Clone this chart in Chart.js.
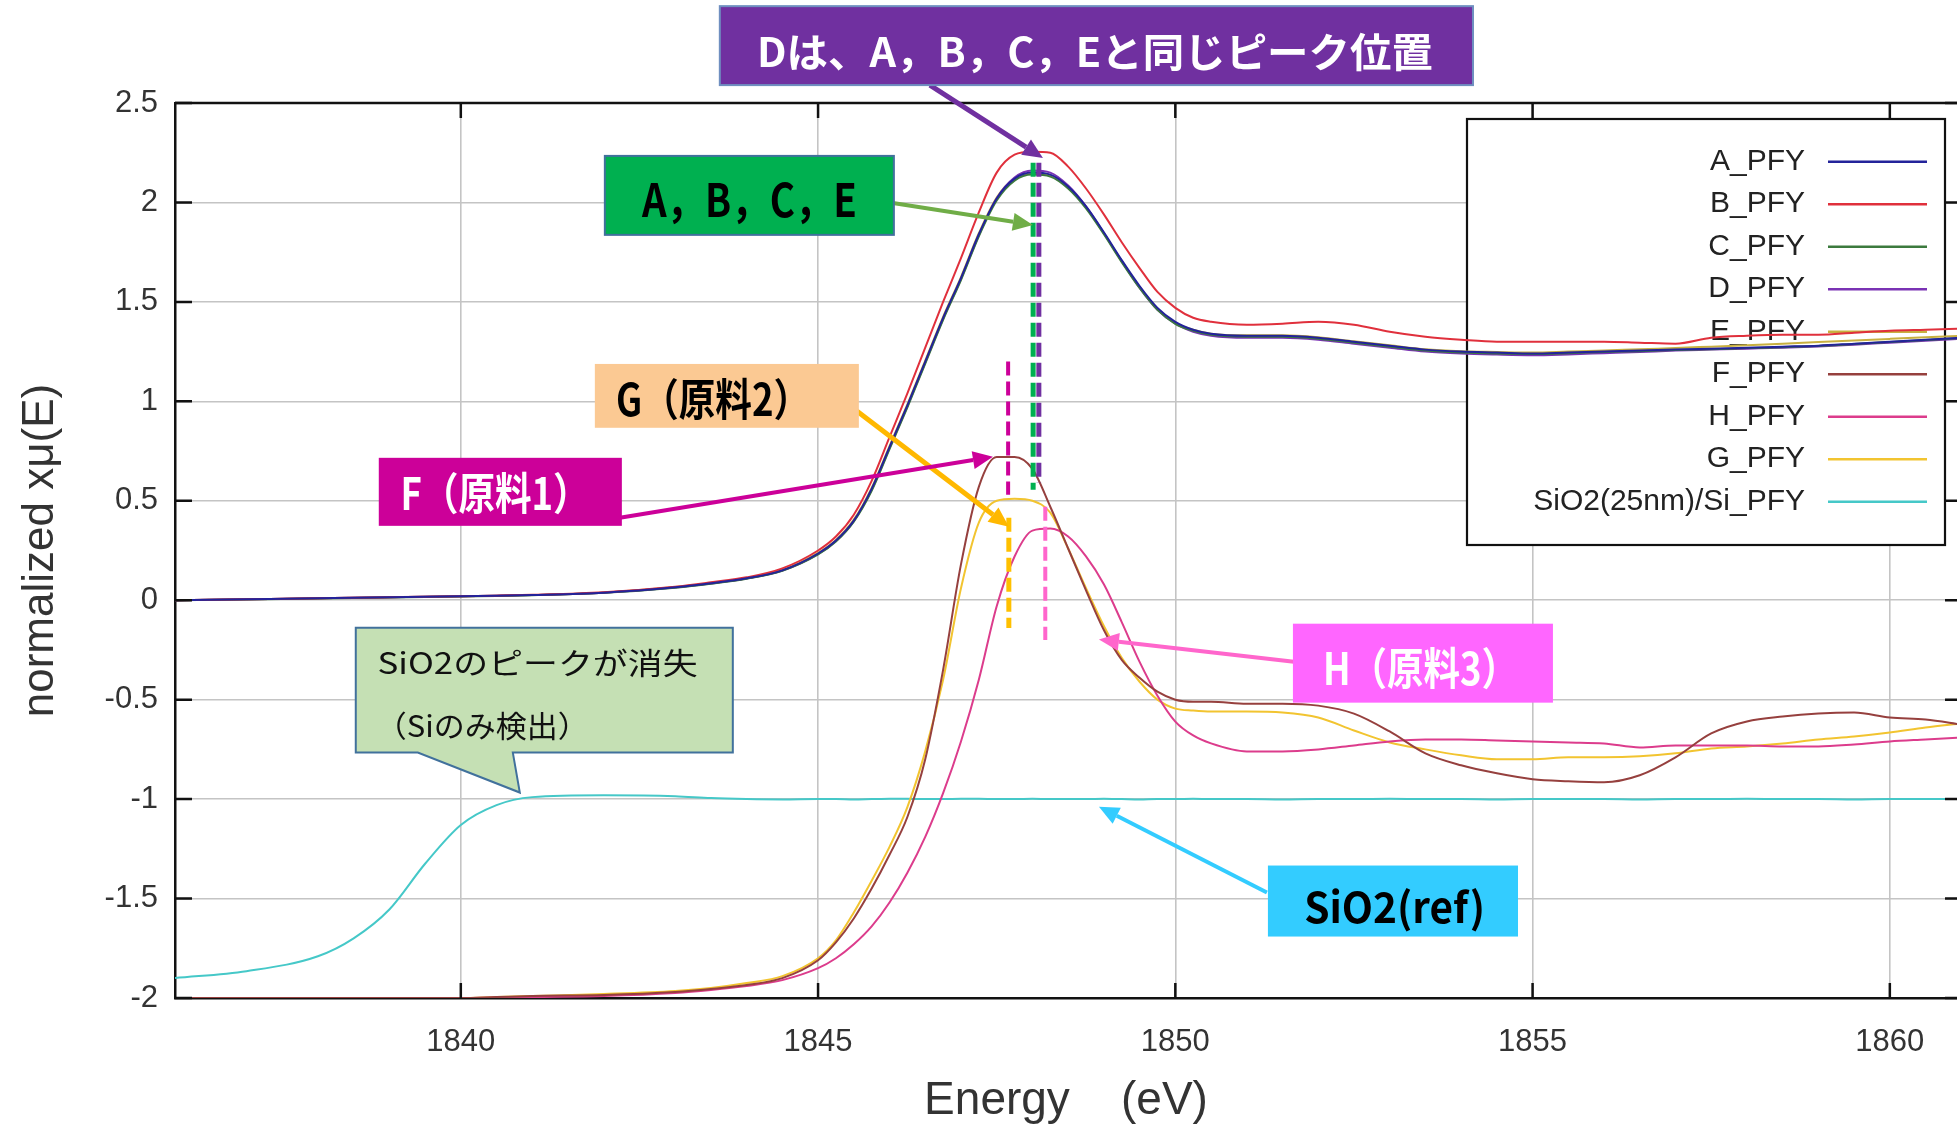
<!DOCTYPE html>
<html>
<head>
<meta charset="utf-8">
<script src="https://cdn.jsdelivr.net/npm/chart.js@4.4.1/dist/chart.umd.min.js"></script>
<style>
  html, body { margin: 0; padding: 0; background: #fff; overflow: hidden; }
  canvas { display: block; }
</style>
</head>
<body>
<canvas id="c" width="1957" height="1126"></canvas>
<script>
// ---- data: Si K-edge PFY spectra (normalized, offset) ----
const energy = [1836, 1837, 1838, 1838.5, 1839, 1839.5, 1840, 1840.5, 1841, 1842,
  1843, 1843.5, 1844, 1844.5, 1845, 1845.25, 1845.5, 1845.75, 1846, 1846.25,
  1846.5, 1846.75, 1847, 1847.25, 1847.5, 1847.75, 1848, 1848.25, 1848.5, 1848.75,
  1849, 1849.25, 1849.5, 1849.75, 1850, 1850.25, 1850.5, 1851, 1851.5, 1852,
  1852.5, 1853, 1853.5, 1854, 1854.5, 1855, 1855.5, 1856, 1856.5, 1857,
  1857.5, 1858, 1858.5, 1859, 1859.5, 1860, 1860.5, 1861];

const A_PFY = [0.000, 0.005, 0.010, 0.012, 0.015, 0.017, 0.020, 0.022, 0.026, 0.038,
  0.065, 0.085, 0.110, 0.150, 0.235, 0.300, 0.400, 0.560, 0.770, 0.980,
  1.200, 1.420, 1.620, 1.840, 2.020, 2.120, 2.150, 2.140, 2.080, 1.980,
  1.850, 1.710, 1.580, 1.470, 1.400, 1.360, 1.340, 1.330, 1.330, 1.320,
  1.300, 1.280, 1.260, 1.250, 1.245, 1.240, 1.245, 1.250, 1.255, 1.260,
  1.265, 1.270, 1.275, 1.280, 1.290, 1.300, 1.310, 1.320];

const B_PFY = [0.000, 0.005, 0.010, 0.012, 0.015, 0.018, 0.020, 0.023, 0.027, 0.040,
  0.068, 0.090, 0.115, 0.160, 0.250, 0.320, 0.430, 0.600, 0.820, 1.040,
  1.270, 1.500, 1.720, 1.950, 2.150, 2.240, 2.255, 2.250, 2.180, 2.070,
  1.940, 1.800, 1.670, 1.550, 1.470, 1.420, 1.400, 1.385, 1.390, 1.400,
  1.385, 1.350, 1.325, 1.310, 1.300, 1.300, 1.300, 1.300, 1.295, 1.290,
  1.320, 1.330, 1.335, 1.335, 1.345, 1.355, 1.360, 1.365];

const C_PFY = [0.000, 0.004, 0.009, 0.011, 0.014, 0.016, 0.019, 0.021, 0.025, 0.037,
  0.063, 0.083, 0.108, 0.148, 0.230, 0.295, 0.395, 0.550, 0.760, 0.970,
  1.190, 1.410, 1.610, 1.830, 2.010, 2.110, 2.140, 2.130, 2.070, 1.970,
  1.840, 1.700, 1.570, 1.460, 1.390, 1.355, 1.335, 1.325, 1.325, 1.315,
  1.295, 1.275, 1.255, 1.245, 1.240, 1.238, 1.242, 1.248, 1.252, 1.258,
  1.262, 1.268, 1.272, 1.278, 1.288, 1.298, 1.308, 1.318];

const D_PFY = [0.000, 0.005, 0.010, 0.012, 0.015, 0.017, 0.020, 0.022, 0.026, 0.038,
  0.064, 0.084, 0.109, 0.149, 0.232, 0.298, 0.398, 0.555, 0.765, 0.975,
  1.195, 1.415, 1.615, 1.835, 2.020, 2.125, 2.160, 2.150, 2.085, 1.980,
  1.845, 1.705, 1.570, 1.460, 1.390, 1.350, 1.330, 1.320, 1.320, 1.310,
  1.290, 1.270, 1.250, 1.240, 1.235, 1.232, 1.236, 1.242, 1.248, 1.255,
  1.260, 1.265, 1.270, 1.276, 1.285, 1.295, 1.305, 1.315];

const E_PFY = [0.000, 0.005, 0.010, 0.012, 0.015, 0.017, 0.020, 0.022, 0.026, 0.038,
  0.066, 0.086, 0.111, 0.152, 0.238, 0.303, 0.405, 0.565, 0.775, 0.985,
  1.205, 1.425, 1.625, 1.845, 2.025, 2.120, 2.145, 2.135, 2.075, 1.975,
  1.845, 1.705, 1.575, 1.465, 1.395, 1.360, 1.340, 1.332, 1.332, 1.322,
  1.302, 1.282, 1.262, 1.252, 1.248, 1.245, 1.250, 1.255, 1.262, 1.268,
  1.275, 1.282, 1.290, 1.298, 1.306, 1.314, 1.322, 1.330];

const F_PFY = [-2.000, -2.000, -2.000, -2.000, -2.000, -2.000, -2.000, -1.995, -1.990, -1.985,
  -1.970, -1.955, -1.935, -1.900, -1.810, -1.720, -1.600, -1.450, -1.280, -1.090,
  -0.800, -0.350, 0.180, 0.570, 0.720, 0.720, 0.660, 0.470, 0.260, 0.050,
  -0.150, -0.300, -0.390, -0.460, -0.500, -0.510, -0.510, -0.520, -0.520, -0.530,
  -0.570, -0.660, -0.770, -0.830, -0.870, -0.900, -0.910, -0.915, -0.880, -0.790,
  -0.670, -0.610, -0.585, -0.570, -0.565, -0.590, -0.600, -0.625];

const H_PFY = [-2.000, -2.000, -2.000, -2.000, -2.000, -2.000, -2.000, -1.998, -1.995, -1.990,
  -1.975, -1.960, -1.940, -1.910, -1.850, -1.800, -1.730, -1.640, -1.520, -1.370,
  -1.190, -0.970, -0.710, -0.400, -0.030, 0.220, 0.350, 0.360, 0.320, 0.220,
  0.080, -0.110, -0.310, -0.480, -0.610, -0.680, -0.720, -0.760, -0.760, -0.750,
  -0.730, -0.710, -0.700, -0.700, -0.705, -0.710, -0.715, -0.720, -0.740, -0.730,
  -0.730, -0.730, -0.735, -0.735, -0.725, -0.710, -0.700, -0.690];

const G_PFY = [-2.000, -2.000, -2.000, -2.000, -2.000, -2.000, -2.000, -1.995, -1.990, -1.980,
  -1.965, -1.950, -1.925, -1.890, -1.800, -1.710, -1.570, -1.410, -1.240, -1.040,
  -0.760, -0.400, 0.060, 0.390, 0.500, 0.510, 0.500, 0.440, 0.260, 0.060,
  -0.130, -0.290, -0.410, -0.500, -0.545, -0.555, -0.560, -0.560, -0.565, -0.590,
  -0.655, -0.715, -0.750, -0.780, -0.800, -0.800, -0.790, -0.790, -0.785, -0.770,
  -0.745, -0.735, -0.720, -0.700, -0.685, -0.665, -0.640, -0.620];

const SiO2_PFY = [-1.900, -1.865, -1.790, -1.700, -1.555, -1.325, -1.130, -1.030, -0.990, -0.980,
  -0.985, -0.995, -1.000, -1.002, -1.000, -1.000, -1.002, -1.000, -0.998, -0.998,
  -1.000, -1.000, -0.998, -0.998, -1.000, -1.000, -0.998, -1.000, -1.000, -1.000,
  -0.998, -1.000, -1.002, -1.000, -1.000, -0.998, -1.000, -1.000, -1.002, -1.000,
  -1.000, -0.998, -1.000, -1.000, -1.002, -1.000, -1.000, -1.000, -1.002, -1.000,
  -1.000, -0.998, -1.000, -1.000, -1.002, -1.000, -1.000, -1.000];

const seriesNames = ['A_PFY', 'B_PFY', 'C_PFY', 'D_PFY', 'E_PFY', 'F_PFY', 'H_PFY', 'G_PFY', 'SiO2(25nm)/Si_PFY'];
const seriesValues = [A_PFY, B_PFY, C_PFY, D_PFY, E_PFY, F_PFY, H_PFY, G_PFY, SiO2_PFY];
const seriesColors = ['#23239a', '#e0303c', '#3c7a3e', '#7a32b4', '#c8b040', '#96403e', '#dc3c8c', '#f2c430', '#45c8c8'];

const xTicks = [1840, 1845, 1850, 1855, 1860];
const yTicks = [-2, -1.5, -1, -0.5, 0, 0.5, 1, 1.5, 2, 2.5];

// ---- callout annotations (data coordinates) ----
const peakMarkers = [
  { x: 1847.66, y1: 1.20, y2: 0.53, color: '#cc0099', width: 4 },
  { x: 1848.01, y1: 2.20, y2: 0.555, color: '#00b050', width: 5 },
  { x: 1848.09, y1: 2.20, y2: 0.59, color: '#7030a0', width: 5 },
  { x: 1847.67, y1: 0.415, y2: -0.14, color: '#ffc000', width: 5 },
  { x: 1848.18, y1: 0.47, y2: -0.20, color: '#ff66cc', width: 4 }
];

const arrows = [
  { from: [1846.565, 2.590], to: [1848.147, 2.224], color: '#7030a0', width: 5 },
  { from: [1846.047, 1.997], to: [1848.007, 1.887], color: '#70ad47', width: 4 },
  { from: [1845.487, 0.967], to: [1847.671, 0.369], color: '#ffb800', width: 5 },
  { from: [1842.226, 0.415], to: [1847.447, 0.721], color: '#cc0099', width: 4 },
  { from: [1851.660, -0.309], to: [1848.931, -0.198], color: '#ff66cc', width: 4 },
  { from: [1851.282, -1.470], to: [1848.931, -1.038], color: '#33ccff', width: 4 }
];

const labelBoxes = [
  { x1: 1843.625, x2: 1854.166, y1: 2.987, y2: 2.590, fill: '#7030a0', stroke: '#6f8fc0',
    text: 'Dは、A，B，C，Eと同じピーク位置', tx: 1848.875, ty: 2.756, tw: 676, size: 40, color: '#ffffff' },
  { x1: 1842.016, x2: 1846.061, y1: 2.234, y2: 1.837, fill: '#00b050', stroke: '#41719c',
    text: 'A，B，C，E', tx: 1844.04, ty: 2.013, tw: 215, size: 46, color: '#000000' },
  { x1: 1841.876, x2: 1845.571, y1: 1.188, y2: 0.867, fill: '#fbc993', stroke: null,
    text: 'G（原料2）', tx: 1843.53, ty: 1.008, tw: 194, size: 44, color: '#000000' },
  { x1: 1838.852, x2: 1842.254, y1: 0.716, y2: 0.374, fill: '#cc0099', stroke: null,
    text: 'F（原料1）', tx: 1840.48, ty: 0.540, tw: 189, size: 44, color: '#ffffff' },
  { x1: 1851.646, x2: 1855.285, y1: -0.118, y2: -0.515, fill: '#ff66ff', stroke: null,
    text: 'H（原料3）', tx: 1853.43, ty: -0.344, tw: 195, size: 44, color: '#ffffff' },
  { x1: 1851.296, x2: 1854.796, y1: -1.334, y2: -1.691, fill: '#33ccff', stroke: null,
    text: 'SiO2(ref)', tx: 1853.07, ty: -1.545, tw: 181, size: 42, color: '#000000' }
];

const speechBubble = {
  x1: 1838.530, x2: 1843.807, y1: -0.138, y2: -0.766,
  tailLeft: 1839.398, tailRight: 1840.728, tip: [1840.826, -0.967],
  fill: '#c5e0b4', stroke: '#41719c',
  lines: [
    { text: 'SiO2のピークが消失', x: 1838.835, y: -0.314, w: 320 },
    { text: '（Siのみ検出）', x: 1838.81, y: -0.631, w: 213 }
  ]
};

const LATIN = '"Liberation Sans", Arial, sans-serif';
const CJK = '"Noto Sans CJK JP", "Noto Sans", sans-serif';

function drawFitted(ctx, text, x, y, width, font, color, align) {
  ctx.save();
  ctx.font = font;
  const w = ctx.measureText(text).width;
  ctx.translate(x, y);
  ctx.scale(width / w, 1);
  ctx.fillStyle = color;
  ctx.textBaseline = 'middle';
  ctx.textAlign = align || 'center';
  ctx.fillText(text, 0, 0);
  ctx.restore();
}

function drawArrow(ctx, x1, y1, x2, y2, color, width) {
  const ang = Math.atan2(y2 - y1, x2 - x1);
  const headLen = 20, headHalf = 9;
  const bx = x2 - headLen * Math.cos(ang), by = y2 - headLen * Math.sin(ang);
  ctx.save();
  ctx.strokeStyle = color;
  ctx.fillStyle = color;
  ctx.lineWidth = width;
  ctx.beginPath();
  ctx.moveTo(x1, y1);
  ctx.lineTo(bx, by);
  ctx.stroke();
  ctx.beginPath();
  ctx.moveTo(x2, y2);
  ctx.lineTo(bx + headHalf * Math.sin(ang), by - headHalf * Math.cos(ang));
  ctx.lineTo(bx - headHalf * Math.sin(ang), by + headHalf * Math.cos(ang));
  ctx.closePath();
  ctx.fill();
  ctx.restore();
}

// key box drawn under the curves, frame/ticks and callouts on top
const decorations = {
  id: 'decorations',
  beforeDatasetsDraw(chart) {
    const { ctx, chartArea } = chart;
    const right = chartArea.right - 12;
    const top = chartArea.top + 16;
    const left = right - 478;
    const bottom = top + 426;
    ctx.save();
    ctx.fillStyle = '#ffffff';
    ctx.fillRect(left, top, right - left, bottom - top);
    ctx.strokeStyle = '#111';
    ctx.lineWidth = 2.2;
    ctx.strokeRect(left, top, right - left, bottom - top);
    ctx.font = '30px ' + LATIN;
    ctx.textAlign = 'right';
    ctx.textBaseline = 'middle';
    chart.data.datasets.forEach((ds, i) => {
      const y = top + 42.7 + i * 42.5;
      ctx.fillStyle = '#222';
      ctx.fillText(ds.label, left + 338, y);
      ctx.strokeStyle = ds.borderColor;
      ctx.lineWidth = 2.5;
      ctx.beginPath();
      ctx.moveTo(left + 361, y);
      ctx.lineTo(left + 460, y);
      ctx.stroke();
    });
    ctx.restore();
  },
  afterDatasetsDraw(chart) {
    const { ctx, chartArea, scales: { x, y } } = chart;
    ctx.save();
    // top frame line
    ctx.strokeStyle = '#111';
    ctx.lineWidth = 2.5;
    ctx.beginPath();
    ctx.moveTo(chartArea.left, chartArea.top);
    ctx.lineTo(chartArea.right + 2, chartArea.top);
    ctx.stroke();
    // inward tick marks on all four sides
    ctx.lineWidth = 2.5;
    x.ticks.forEach(t => {
      const px = x.getPixelForValue(t.value);
      ctx.beginPath();
      ctx.moveTo(px, chartArea.bottom);
      ctx.lineTo(px, chartArea.bottom - 15);
      ctx.moveTo(px, chartArea.top);
      ctx.lineTo(px, chartArea.top + 15);
      ctx.stroke();
    });
    y.ticks.forEach(t => {
      const py = y.getPixelForValue(t.value);
      ctx.beginPath();
      ctx.moveTo(chartArea.left, py);
      ctx.lineTo(chartArea.left + 17, py);
      ctx.moveTo(chartArea.right, py);
      ctx.lineTo(chartArea.right - 12, py);
      ctx.stroke();
    });
    // dashed peak-position markers
    peakMarkers.forEach(m => {
      ctx.strokeStyle = m.color;
      ctx.lineWidth = m.width;
      ctx.setLineDash([14, 6]);
      ctx.beginPath();
      const px = x.getPixelForValue(m.x);
      ctx.moveTo(px, y.getPixelForValue(m.y1));
      ctx.lineTo(px, y.getPixelForValue(m.y2));
      ctx.stroke();
    });
    ctx.setLineDash([]);
    ctx.restore();
  },
  afterDraw(chart) {
    const { ctx, scales: { x, y } } = chart;
    const X = v => x.getPixelForValue(v);
    const Y = v => y.getPixelForValue(v);
    ctx.save();
    arrows.forEach(a => drawArrow(ctx, X(a.from[0]), Y(a.from[1]), X(a.to[0]), Y(a.to[1]), a.color, a.width));
    labelBoxes.forEach(b => {
      const l = X(b.x1), r = X(b.x2), t = Y(b.y1), btm = Y(b.y2);
      ctx.fillStyle = b.fill;
      ctx.fillRect(l, t, r - l, btm - t);
      if (b.stroke) {
        ctx.strokeStyle = b.stroke;
        ctx.lineWidth = 2;
        ctx.strokeRect(l, t, r - l, btm - t);
      }
      drawFitted(ctx, b.text, X(b.tx), Y(b.ty), b.tw, 'bold ' + b.size + 'px ' + CJK, b.color, 'center');
    });
    // speech bubble with pointer
    const s = speechBubble;
    const l = X(s.x1), r = X(s.x2), t = Y(s.y1), btm = Y(s.y2);
    ctx.beginPath();
    ctx.moveTo(l, t);
    ctx.lineTo(r, t);
    ctx.lineTo(r, btm);
    ctx.lineTo(X(s.tailRight), btm);
    ctx.lineTo(X(s.tip[0]), Y(s.tip[1]));
    ctx.lineTo(X(s.tailLeft), btm);
    ctx.lineTo(l, btm);
    ctx.closePath();
    ctx.fillStyle = s.fill;
    ctx.fill();
    ctx.strokeStyle = s.stroke;
    ctx.lineWidth = 2;
    ctx.stroke();
    s.lines.forEach(ln => drawFitted(ctx, ln.text, X(ln.x), Y(ln.y), ln.w, '30px ' + CJK, '#111', 'left'));
    ctx.restore();
  }
};

const datasets = seriesNames.map((name, i) => ({
  label: name,
  data: energy.map((e, k) => ({ x: e, y: seriesValues[i][k] })),
  borderColor: seriesColors[i],
  backgroundColor: seriesColors[i],
  borderWidth: 2,
  pointRadius: 0,
  fill: false,
  cubicInterpolationMode: 'monotone'
}));

const plainLabel = v => String(v);

new Chart(document.getElementById('c'), {
  type: 'line',
  data: { datasets },
  options: {
    responsive: false,
    devicePixelRatio: 1,
    animation: false,
    events: [],
    layout: { padding: { top: 103, right: 0, left: 0, bottom: 0 } },
    plugins: { legend: { display: false }, tooltip: { enabled: false } },
    scales: {
      x: {
        type: 'linear',
        min: 1836,
        max: 1860.94,
        afterBuildTicks: s => { s.ticks = xTicks.map(v => ({ value: v })); },
        afterFit: s => { s.height = 128; },
        ticks: { padding: 26, color: '#333', callback: plainLabel, font: { family: LATIN, size: 31 } },
        grid: { color: '#c4c4c4', lineWidth: 1.6, drawTicks: false },
        border: { display: true, color: '#111', width: 2.5 },
        title: { display: true, text: 'Energy    (eV)', color: '#333',
                 font: { family: LATIN, size: 46, lineHeight: 1 }, padding: { top: 0, bottom: 2 } }
      },
      y: {
        type: 'linear',
        min: -2,
        max: 2.5,
        afterBuildTicks: s => { s.ticks = yTicks.map(v => ({ value: v })); },
        afterFit: s => { s.width = 175; },
        ticks: { padding: 17, color: '#333', callback: plainLabel, font: { family: LATIN, size: 31 } },
        grid: { color: '#c4c4c4', lineWidth: 1.6, drawTicks: false },
        border: { display: true, color: '#111', width: 2.5 },
        title: { display: true, text: 'normalized xμ(E)', color: '#333',
                 font: { family: LATIN, size: 44, lineHeight: 1 }, padding: { top: 19, bottom: 0 } }
      }
    }
  },
  plugins: [decorations]
});
</script>
</body>
</html>
